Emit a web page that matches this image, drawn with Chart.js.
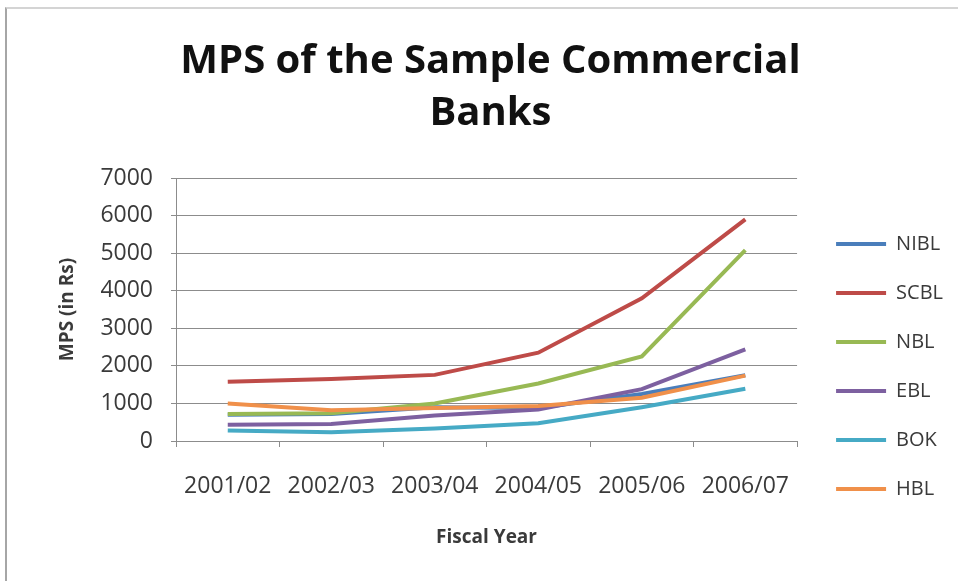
<!DOCTYPE html>
<html>
<head>
<meta charset="utf-8">
<title>MPS of the Sample Commercial Banks</title>
<script src="https://cdn.jsdelivr.net/npm/chart.js@4.4.1/dist/chart.umd.min.js"></script>
<style>
  html, body { margin: 0; padding: 0; background: #fff; }
  #wrap { position: relative; width: 958px; height: 581px; }
  #frame { position: absolute; left: 5px; top: 7px; right: 0; bottom: 0;
           border-left: 2px solid #a6a6a6; border-top: 2px solid #d4d4d4; pointer-events: none; }
</style>
</head>
<body>
<div id="wrap">
  <canvas id="mps-chart" width="958" height="581"></canvas>
  <div id="frame"></div>
</div>
<script>
// fiscal years on the x axis
var years = ['2001/02', '2002/03', '2003/04', '2004/05', '2005/06', '2006/07'];

// market price per share (Rs)
var nibl = [700, 720, 900, 880, 1250, 1750];
var scbl = [1580, 1650, 1760, 2350, 3800, 5900];
var nbl  = [720, 740, 1000, 1530, 2250, 5080];
var ebl  = [430, 450, 680, 840, 1380, 2440];
var bok  = [280, 230, 330, 470, 900, 1390];
var hbl  = [1000, 820, 880, 930, 1150, 1740];

var yTicks = [0, 1000, 2000, 3000, 4000, 5000, 6000, 7000];

var banks = ['NIBL', 'SCBL', 'NBL', 'EBL', 'BOK', 'HBL'];
var values = [nibl, scbl, nbl, ebl, bok, hbl];
var colors = ['#4a7ebb', '#be4b48', '#98b954', '#7d60a0', '#46aac5', '#f0904a'];

var titleText = 'MPS of the Sample Commercial';
var titleFamily = '"Liberation Sans Narrow", "Open Sans", sans-serif';
var textFamily = '"Open Sans", sans-serif';
var textColor = '#3a3a3a';
var gridColor = '#8c8c8c';

// size the title so its first line is as wide as in the picture
function fitSize(text, family, width) {
  var c = document.createElement('canvas').getContext('2d');
  c.font = 'bold 100px ' + family;
  return Math.floor(100 * width / c.measureText(text).width);
}
var titleSize = Math.min(52, fitSize(titleText, titleFamily, 625));

var datasets = banks.map(function (name, i) {
  return {
    label: name,
    data: values[i],
    borderColor: colors[i],
    backgroundColor: colors[i],
    borderWidth: 4,
    pointRadius: 0,
    tension: 0,
    order: banks.length - i   // later series drawn on top, as in Excel
  };
});

var ctx = document.getElementById('mps-chart').getContext('2d');
new Chart(ctx, {
  type: 'line',
  data: { labels: years, datasets: datasets },
  options: {
    responsive: false,
    animation: false,
    layout: { padding: { left: 28, right: 5, top: 0, bottom: 0 } },
    plugins: {
      tooltip: { enabled: false },
      title: {
        display: true,
        text: [titleText, 'Banks'],
        color: '#111',
        font: { family: titleFamily, size: titleSize, weight: 'bold', lineHeight: '52px' },
        padding: { top: 36, bottom: 38 }
      },
      legend: {
        position: 'right',
        align: 'start',
        title: { display: true, text: '', font: { size: 10 }, padding: { top: 193, bottom: 0 } },
        labels: {
          boxWidth: 50,
          boxHeight: 4,
          padding: 29,
          color: textColor,
          font: { family: textFamily, size: 20 },
          sort: function (a, b) { return a.datasetIndex - b.datasetIndex; },
          generateLabels: function (chart) {
            var items = Chart.defaults.plugins.legend.labels.generateLabels(chart);
            items.forEach(function (it) { it.lineWidth = 0; });
            return items;
          }
        }
      }
    },
    scales: {
      x: {
        offset: true,
        grid: { offset: true, drawOnChartArea: false, tickLength: 6, color: gridColor },
        border: { color: gridColor },
        ticks: { color: textColor, padding: 26, font: { family: textFamily, size: 23 } },
        title: {
          display: true, text: 'Fiscal Year', color: textColor,
          font: { family: textFamily, size: 19, weight: 'bold' },
          padding: { top: 0, bottom: 32 }
        },
        afterFit: function (scale) { scale.height = 140; }
      },
      y: {
        min: 0,
        max: 7000,
        afterBuildTicks: function (scale) {
          scale.ticks = yTicks.map(function (v) { return { value: v }; });
        },
        grid: { color: gridColor, tickLength: 5 },
        border: { color: gridColor },
        ticks: {
          color: textColor, padding: 18, font: { family: textFamily, size: 23 },
          callback: function (v) { return String(v); }
        },
        title: {
          display: true, text: 'MPS (in Rs)', color: textColor,
          font: { family: textFamily, size: 19, weight: 'bold' },
          padding: { top: 28, bottom: 0 }
        },
        afterFit: function (scale) { scale.width = 148; }
      },
      // empty spacer between the plot and the legend
      gap: {
        type: 'linear',
        position: 'right',
        display: true,
        grid: { display: false },
        border: { display: false },
        ticks: { display: false },
        afterFit: function (scale) { scale.width = 10; }
      }
    }
  }
});
</script>
</body>
</html>
